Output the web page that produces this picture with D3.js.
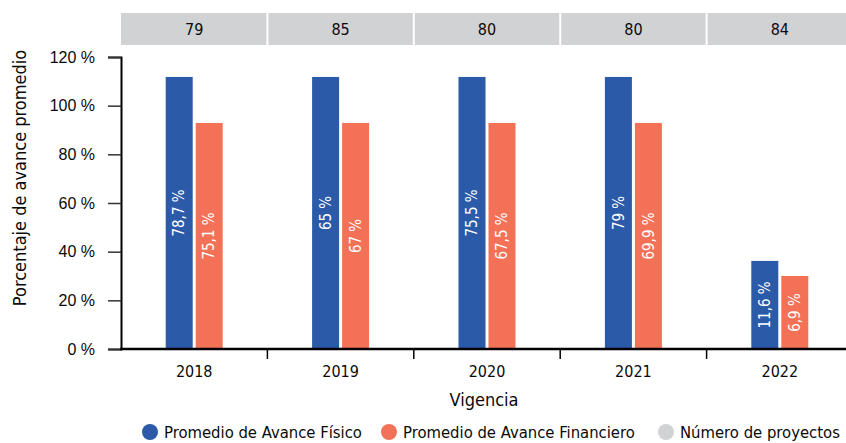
<!DOCTYPE html>
<html>
<head>
<meta charset="utf-8">
<script src="https://cdn.jsdelivr.net/npm/d3@7"></script>
<style>
  body { margin: 0; background: #fff; }
  svg { font-family: "Liberation Sans Narrow", "DejaVu Sans Condensed", "Roboto", sans-serif; }
</style>
</head>
<body>
<svg width="846" height="443"></svg>
<script>
const years = ['2018', '2019', '2020', '2021', '2022']
const fisico = [111.8, 111.8, 111.8, 111.8, 36.2]
const financiero = [92.9, 92.9, 92.9, 92.9, 30.0]
const fisicoLabels = ['78,7 %', '65 %', '75,5 %', '79 %', '11,6 %']
const financieroLabels = ['75,1 %', '67 %', '67,5 %', '69,9 %', '6,9 %']
const proyectos = [79, 85, 80, 80, 84]
const yTicks = [0, 20, 40, 60, 80, 100, 120]

const BLUE = '#2a5aa8'
const ORANGE = '#f37257'
const GRAY = '#d1d2d4'
const INK = '#0a0a0a'

const svg = d3.select('svg')

const x = d3.scaleBand().domain(years).range([121, 853])
const y = d3.scaleLinear().domain([0, 120]).range([349, 57])

const barW = 27, gap = 3

// top strip with project counts
const strip = svg.append('g')
strip.selectAll('rect').data(years).join('rect')
  .attr('x', d => x(d) + (d === years[0] ? 0 : 1))
  .attr('y', 13)
  .attr('width', d => x.bandwidth() - (d === years[0] ? 1 : 2))
  .attr('height', 32)
  .attr('fill', GRAY)
strip.selectAll('text').data(years).join('text')
  .attr('x', d => x(d) + x.bandwidth() / 2)
  .attr('y', 29)
  .attr('dy', '0.35em')
  .attr('text-anchor', 'middle')
  .attr('font-size', 16)
  .attr('fill', INK)
  .text((d, i) => proyectos[i])

// bars
const groups = svg.append('g').selectAll('g').data(years).join('g')
  .attr('transform', d => `translate(${x(d) + x.bandwidth() / 2},0)`)

const addBars = (vals, labels, color, dx) => {
  groups.append('rect')
    .attr('x', dx)
    .attr('y', (d, i) => y(vals[i]))
    .attr('width', barW)
    .attr('height', (d, i) => y(0) - y(vals[i]))
    .attr('fill', color)
  groups.append('text')
    .attr('transform', (d, i) => `translate(${dx + barW / 2},${(y(0) + y(vals[i])) / 2}) rotate(-90)`)
    .attr('text-anchor', 'middle')
    .attr('dy', '0.35em')
    .attr('font-size', 15)
    .attr('fill', '#fff')
    .text((d, i) => labels[i])
}
addBars(fisico, fisicoLabels, BLUE, -barW - gap / 2)
addBars(financiero, financieroLabels, ORANGE, gap / 2)

// y axis
const yAxis = svg.append('g')
  .attr('transform', 'translate(121,0)')
  .call(d3.axisLeft(y).tickValues(yTicks).tickFormat(d => d + ' %').tickSize(13).tickSizeOuter(13).tickPadding(13))
yAxis.select('.domain').attr('stroke', '#000').attr('stroke-width', 2)
yAxis.selectAll('.tick line').attr('stroke', '#333').attr('stroke-width', 1.5)
yAxis.selectAll('.tick text').attr('font-size', 16).attr('fill', INK).attr('font-family', null)

// x axis
const xAxis = svg.append('g').attr('transform', `translate(0,${y(0)})`)
xAxis.append('line')
  .attr('x1', 120).attr('x2', 846)
  .attr('stroke', '#000').attr('stroke-width', 2.5)
xAxis.selectAll('line.sep').data(years.slice(1)).join('line')
  .attr('class', 'sep')
  .attr('x1', d => x(d)).attr('x2', d => x(d))
  .attr('y1', 0).attr('y2', 10)
  .attr('stroke', '#000').attr('stroke-width', 1.5)
xAxis.selectAll('text').data(years).join('text')
  .attr('x', d => x(d) + x.bandwidth() / 2)
  .attr('y', 22)
  .attr('dy', '0.35em')
  .attr('text-anchor', 'middle')
  .attr('font-size', 16)
  .attr('fill', INK)
  .text(d => d)

// axis titles
svg.append('text')
  .attr('transform', 'translate(20,178) rotate(-90)')
  .attr('text-anchor', 'middle')
  .attr('dy', '0.35em')
  .attr('font-size', 18)
  .attr('fill', INK)
  .text('Porcentaje de avance promedio')
svg.append('text')
  .attr('x', 484).attr('y', 400)
  .attr('dy', '0.35em')
  .attr('text-anchor', 'middle')
  .attr('font-size', 18)
  .attr('fill', INK)
  .text('Vigencia')

// legend
const legendItems = [
  {label: 'Promedio de Avance Físico', color: BLUE, x: 150},
  {label: 'Promedio de Avance Financiero', color: ORANGE, x: 389},
  {label: 'Número de proyectos', color: GRAY, x: 666},
]
const legend = svg.append('g').selectAll('g').data(legendItems).join('g')
  .attr('transform', d => `translate(${d.x},432)`)
legend.append('circle').attr('r', 8).attr('fill', d => d.color)
legend.append('text')
  .attr('x', 14).attr('dy', '0.35em')
  .attr('font-size', 16.5)
  .attr('fill', INK)
  .text(d => d.label)
</script>
</body>
</html>
